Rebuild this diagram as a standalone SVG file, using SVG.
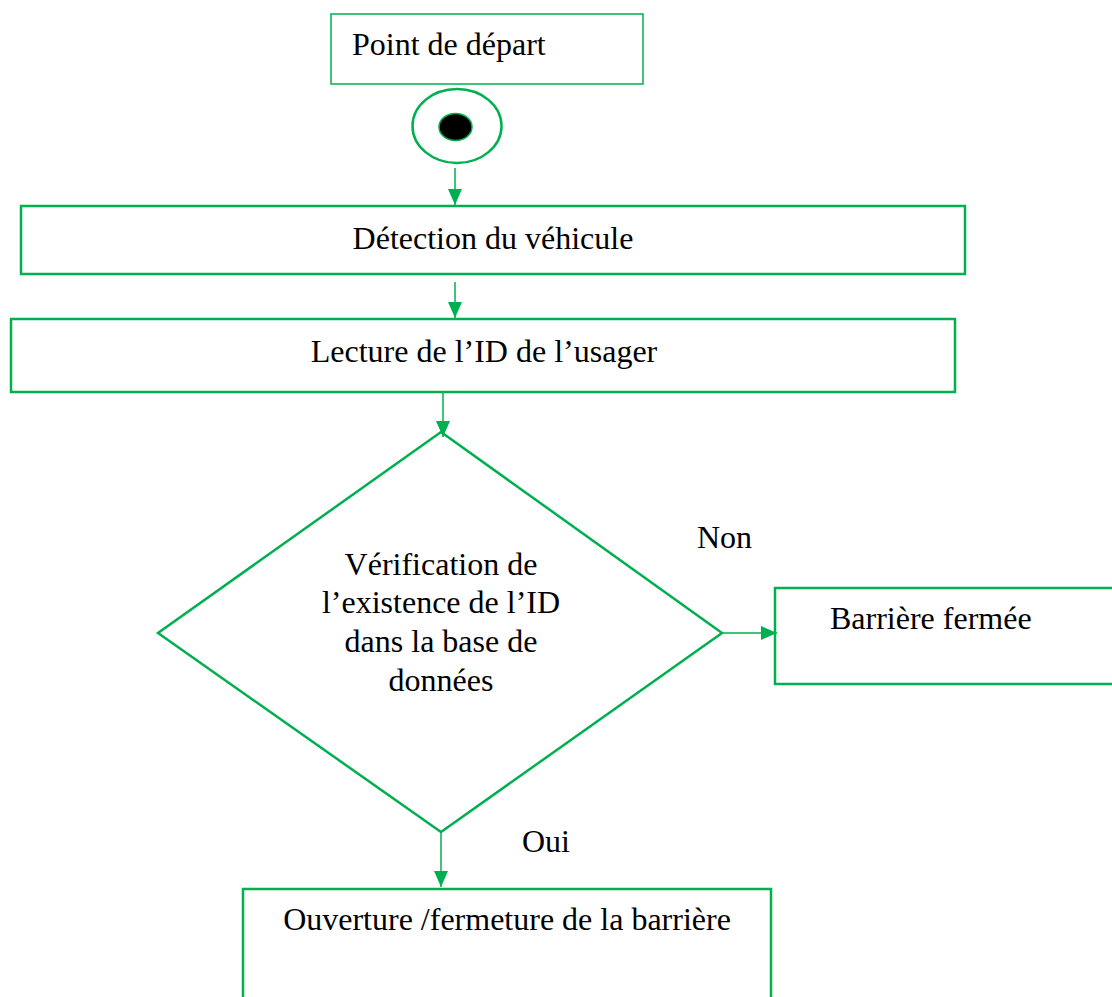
<svg xmlns="http://www.w3.org/2000/svg" width="1112" height="997" viewBox="0 0 1112 997">
<style>
.box{fill:#fff;stroke:#00B050;stroke-width:2.5}
.thin{fill:#fff;stroke:#00B050;stroke-width:1.5}
.t{font-family:"Liberation Serif","Times New Roman",serif;font-size:32px;fill:#000}
.c{text-anchor:middle}
.conn{stroke:#00B050;stroke-width:1.5;fill:none}
</style>
<defs>
<marker id="ah" markerUnits="userSpaceOnUse" markerWidth="16" markerHeight="16" refX="16" refY="7" orient="auto" viewBox="0 0 16 14">
<path d="M0,0 L16,7 L0,14 Z" fill="#00B050"/>
</marker>
</defs>
<rect width="1112" height="997" fill="#fff"/>
<g id="start-label">
<rect class="thin" x="331" y="14" width="312" height="70"/>
<text class="t" x="352" y="55">Point de départ</text>
</g>
<g id="start">
<ellipse cx="457" cy="126" rx="44.5" ry="37" fill="#fff" stroke="#00B050" stroke-width="2.5"/>
<ellipse cx="455.5" cy="127" rx="16.5" ry="13.5" fill="#000" stroke="#00B050" stroke-width="1.5"/>
</g>
<g id="detection">
<rect class="box" x="21" y="206" width="944" height="68"/>
<text class="t c" x="493" y="249">Détection du véhicule</text>
</g>
<g id="lecture">
<rect class="box" x="11" y="319" width="944" height="73"/>
<text class="t c" x="484" y="362">Lecture de l’ID de l’usager</text>
</g>
<g id="verification">
<polygon class="box" points="441,432 722,633 441,832 158,633"/>
<text class="t c" x="441" y="575">Vérification de</text>
<text class="t c" x="441" y="613">l’existence de l’ID</text>
<text class="t c" x="441" y="652">dans la base de</text>
<text class="t c" x="441" y="691">données</text>
</g>
<g id="barriere-fermee">
<rect class="box" x="775" y="588" width="345" height="96"/>
<text class="t" x="830" y="629">Barrière fermée</text>
</g>
<g id="ouverture">
<rect class="box" x="243" y="889" width="528" height="120"/>
<text class="t c" x="507" y="930">Ouverture /fermeture de la barrière</text>
</g>
<g id="connectors">
<line class="conn" x1="455" y1="168" x2="455" y2="205" marker-end="url(#ah)"/>
<line class="conn" x1="455" y1="282" x2="455" y2="318" marker-end="url(#ah)"/>
<line class="conn" x1="443" y1="392" x2="443" y2="437" marker-end="url(#ah)"/>
<line class="conn" x1="722" y1="633" x2="777" y2="633" marker-end="url(#ah)"/>
<line class="conn" x1="441" y1="832" x2="441" y2="887" marker-end="url(#ah)"/>
<text class="t" x="697" y="548">Non</text>
<text class="t" x="522" y="852">Oui</text>
</g>
</svg>
